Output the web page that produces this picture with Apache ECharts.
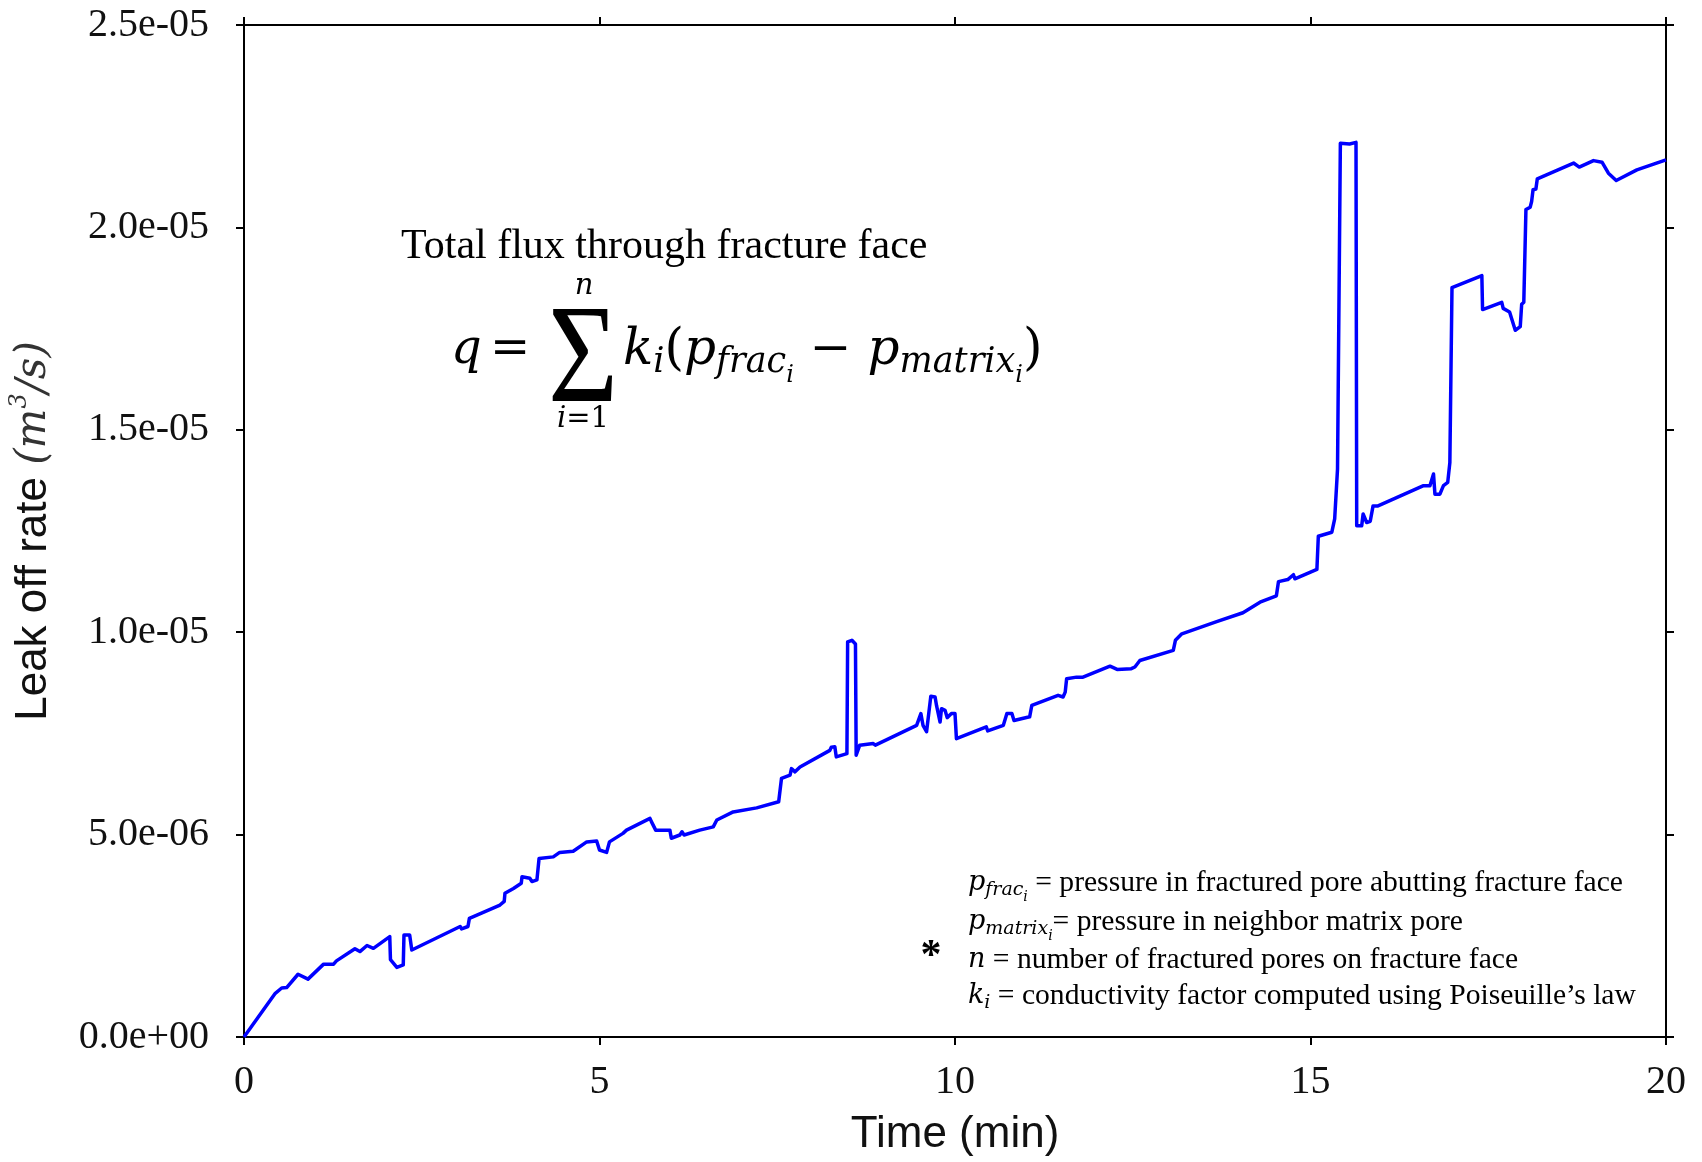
<!DOCTYPE html>
<html>
<head>
<meta charset="utf-8">
<script src="https://cdn.jsdelivr.net/npm/echarts@6/dist/echarts.min.js"></script>
<style>
html,body{margin:0;padding:0;background:#fff;}
#chart{width:1702px;height:1162px;}
</style>
</head>
<body>
<div id="chart"></div>
<script>
// ---- data (time in minutes, leak-off rate in units of 1e-6 m^3/s) ----
const timeMin = [
  0, 0.44, 0.53, 0.60, 0.76, 0.90, 1.12, 1.26, 1.30, 1.56, 1.63, 1.73, 1.82, 2.05, 2.06, 2.15, 2.24, 2.25, 2.33, 2.36,
  3.04, 3.06, 3.15, 3.17, 3.60, 3.66, 3.67, 3.79, 3.90, 3.91, 4.02, 4.05, 4.12, 4.15, 4.35, 4.44, 4.63, 4.82, 4.96, 5.00,
  5.10, 5.14, 5.33, 5.38, 5.71, 5.73, 5.79, 5.99, 6.01, 6.13, 6.16, 6.19, 6.41, 6.60, 6.65, 6.88, 7.21, 7.52, 7.56, 7.68,
  7.70, 7.75, 7.82, 8.24, 8.26, 8.31, 8.33, 8.48, 8.49, 8.55, 8.60, 8.61, 8.66, 8.85, 8.88, 9.46, 9.52, 9.55, 9.60, 9.66,
  9.72, 9.74, 9.79, 9.81, 9.86, 9.89, 9.95, 10.00, 10.02, 10.44, 10.46, 10.68, 10.73, 10.80, 10.83, 11.05, 11.08, 11.45, 11.52, 11.55,
  11.57, 11.71, 11.80, 12.18, 12.28, 12.48, 12.53, 12.60, 13.07, 13.10, 13.19, 13.68, 14.05, 14.29, 14.52, 14.55, 14.68, 14.76, 14.78, 15.09,
  15.11, 15.30, 15.34, 15.38, 15.42, 15.55, 15.64, 15.65, 15.72, 15.74, 15.79, 15.84, 15.88, 15.95, 16.59, 16.68, 16.73, 16.75, 16.82, 16.87,
  16.93, 16.96, 16.99, 17.41, 17.42, 17.69, 17.71, 17.80, 17.88, 17.95, 17.97, 18.00, 18.03, 18.09, 18.11, 18.13, 18.17, 18.19, 18.70, 18.78,
  18.98, 19.10, 19.19, 19.30, 19.59, 20.00
];
const leakRateE6 = [
  0, 1.08, 1.21, 1.22, 1.55, 1.43, 1.80, 1.80, 1.88, 2.18, 2.11, 2.26, 2.19, 2.48, 1.91, 1.72, 1.78, 2.52, 2.52, 2.15,
  2.73, 2.67, 2.73, 2.93, 3.26, 3.35, 3.55, 3.67, 3.80, 3.96, 3.92, 3.84, 3.88, 4.41, 4.45, 4.56, 4.59, 4.82, 4.84, 4.62,
  4.56, 4.82, 5.03, 5.11, 5.40, 5.32, 5.11, 5.11, 4.91, 4.99, 5.07, 4.99, 5.11, 5.19, 5.36, 5.56, 5.66, 5.81, 6.39, 6.47,
  6.63, 6.55, 6.67, 7.08, 7.16, 7.17, 6.92, 7.00, 9.76, 9.80, 9.71, 6.96, 7.21, 7.25, 7.21, 7.70, 7.99, 7.70, 7.54, 8.42,
  8.40, 8.19, 7.78, 8.11, 8.07, 7.89, 7.99, 7.99, 7.37, 7.66, 7.56, 7.70, 7.99, 7.99, 7.82, 7.91, 8.19, 8.44, 8.40, 8.52,
  8.85, 8.89, 8.89, 9.16, 9.08, 9.10, 9.14, 9.30, 9.55, 9.80, 9.96, 10.26, 10.48, 10.74, 10.90, 11.25, 11.30, 11.42, 11.32, 11.55,
  12.37, 12.47, 12.80, 14.03, 22.08, 22.06, 22.10, 12.63, 12.63, 12.92, 12.71, 12.74, 13.12, 13.12, 13.62, 13.62, 13.91, 13.41, 13.41, 13.62,
  13.70, 14.19, 18.51, 18.81, 17.97, 18.15, 18.00, 17.91, 17.46, 17.55, 18.10, 18.15, 20.44, 20.50, 20.64, 20.93, 20.95, 21.20, 21.59, 21.49,
  21.65, 21.61, 21.34, 21.16, 21.42, 21.67
];
const xTickLabels = ['0', '5', '10', '15', '20'];
const yTickLabels = ['0.0e+00', '5.0e-06', '1.0e-05', '1.5e-05', '2.0e-05', '2.5e-05'];
const xAxisTitle = 'Time (min)';
const yAxisTitle = 'Leak off rate ';
const yAxisUnit = ['(m', '3', '/s)'];
const formulaTitle = 'Total flux through fracture face';
const noteLines = [
  '{m|p}{s|frac}{ss|i}{t| = pressure in fractured pore abutting fracture face}',
  '{m|p}{s|matrix}{ss|i}{t|= pressure in neighbor matrix pore}',
  '{m|n}{t| = number of fractured pores on fracture face}',
  '{m|k}{s|i}{t| = conductivity factor computed using Poiseuille\u2019s law}'
];

const seriesData = timeMin.map((t, i) => [t, leakRateE6[i] * 1e-6]);

const MATH = 'DejaVu Serif';
const SERIF = 'Liberation Serif';
const SANS = 'Liberation Sans';

const axisLineStyle = { color: '#000', width: 2 };

const chart = echarts.init(document.getElementById('chart'), null, { renderer: 'canvas' });

const mathRich = function (main, sub, subsub, padS, padSS, txt) {
  return {
    m: { fontFamily: MATH, fontStyle: 'italic', fontSize: main, fill: '#000' },
    r: { fontFamily: MATH, fontSize: main, fill: '#000' },
    s: { fontFamily: MATH, fontStyle: 'italic', fontSize: sub, padding: [padS, 0, 0, 0], fill: '#000' },
    ss: { fontFamily: MATH, fontStyle: 'italic', fontSize: subsub, padding: [padSS, 0, 0, 0], fill: '#000' },
    t: { fontFamily: SERIF, fontSize: txt || 29, fill: '#000' }
  };
};

const graphics = [
  { type: 'text', x: 401, y: 247, style: { text: formulaTitle, fontFamily: SERIF, fontSize: 42, fill: '#000', align: 'left', verticalAlign: 'middle' } },
  { type: 'text', x: 451, y: 351, style: { text: 'q', fontFamily: MATH, fontStyle: 'italic', fontSize: 48, fill: '#000', align: 'left', verticalAlign: 'middle' } },
  { type: 'text', x: 510, y: 351, style: { text: '=', fontFamily: MATH, fontSize: 48, fill: '#000', align: 'center', verticalAlign: 'middle' } },
  { type: 'text', x: 583, y: 364, scaleX: 0.86, style: { text: '\u03A3', fontFamily: SERIF, fontSize: 140, fill: '#000', align: 'center', verticalAlign: 'middle' } },
  { type: 'text', x: 584, y: 286, style: { text: 'n', fontFamily: MATH, fontStyle: 'italic', fontSize: 29, fill: '#000', align: 'center', verticalAlign: 'middle' } },
  { type: 'text', x: 583, y: 419, style: { text: '{m|i}{r|=1}', fontSize: 29, align: 'center', verticalAlign: 'middle', rich: mathRich(29, 20, 14, 0, 0) } },
  { type: 'text', x: 623, y: 351, style: {
      text: '{m|k}{s|i}{r|(}{m|p}{s|frac}{ss|i}{r| \u2212 }{m|p}{s|matrix}{ss|i}{r|)}',
      fontSize: 50, align: 'left', verticalAlign: 'middle', rich: mathRich(50, 35, 24, 24, 50) } },
  { type: 'text', x: 931, y: 957, style: { text: '*', fontFamily: SERIF, fontSize: 42, fontWeight: 'bold', fill: '#000', align: 'center', verticalAlign: 'middle' } }
];
const noteY = [883, 922, 960, 996];
noteLines.forEach((ln, i) => {
  graphics.push({ type: 'text', x: 968, y: noteY[i], style: {
    text: ln, fontSize: 28, align: 'left', verticalAlign: 'middle', rich: mathRich(27, 19, 14, 14, 28, 29.6) } });
});

const option = {
  animation: false,
  backgroundColor: '#ffffff',
  grid: { left: 244, right: 36, top: 25, bottom: 123, containLabel: false },
  xAxis: [
    {
      type: 'value', min: 0, max: 20, interval: 5, position: 'bottom',
      axisLine: { show: true, onZero: false, lineStyle: axisLineStyle },
      axisTick: { show: true, length: 8, lineStyle: axisLineStyle },
      axisLabel: { margin: 25, fontFamily: SERIF, fontSize: 40, color: '#111',
        formatter: v => xTickLabels[Math.round(v / 5)] },
      splitLine: { show: false },
      name: xAxisTitle, nameLocation: 'middle', nameGap: 76,
      nameTextStyle: { fontFamily: SANS, fontSize: 44, color: '#111' }
    },
    {
      type: 'value', min: 0, max: 20, interval: 5, position: 'top',
      axisLine: { show: true, onZero: false, lineStyle: axisLineStyle },
      axisTick: { show: true, length: 8, lineStyle: axisLineStyle },
      axisLabel: { show: false }, splitLine: { show: false }
    }
  ],
  yAxis: [
    {
      type: 'value', min: 0, max: 2.5e-5, interval: 5e-6, position: 'left',
      axisLine: { show: true, onZero: false, lineStyle: axisLineStyle },
      axisTick: { show: true, length: 8, lineStyle: axisLineStyle },
      axisLabel: { margin: 35, fontFamily: SERIF, fontSize: 40, color: '#111',
        formatter: v => yTickLabels[Math.round(v / 5e-6)] },
      splitLine: { show: false },
      name: '{a|' + yAxisTitle + '}{b|' + yAxisUnit[0] + '}{c|' + yAxisUnit[1] + '}{b|' + yAxisUnit[2] + '}',
      nameLocation: 'middle', nameGap: 184,
      nameTextStyle: {
        rich: {
          a: { fontFamily: SANS, fontSize: 44, color: '#111' },
          b: { fontFamily: MATH, fontStyle: 'italic', fontSize: 42, color: '#333' },
          c: { fontFamily: MATH, fontStyle: 'italic', fontSize: 24, color: '#333', padding: [0, 0, 28, 0] }
        }
      }
    },
    {
      type: 'value', min: 0, max: 2.5e-5, interval: 5e-6, position: 'right',
      axisLine: { show: true, onZero: false, lineStyle: axisLineStyle },
      axisTick: { show: true, length: 8, lineStyle: axisLineStyle },
      axisLabel: { show: false }, splitLine: { show: false }
    }
  ],
  series: [
    {
      type: 'line', xAxisIndex: 0, yAxisIndex: 0,
      data: seriesData,
      showSymbol: false, symbol: 'none', smooth: false,
      lineStyle: { color: '#0000ff', width: 3.5, join: 'round' },
      itemStyle: { color: '#0000ff' }
    }
  ],
  graphic: graphics
};
chart.setOption(option);
</script>
</body>
</html>
